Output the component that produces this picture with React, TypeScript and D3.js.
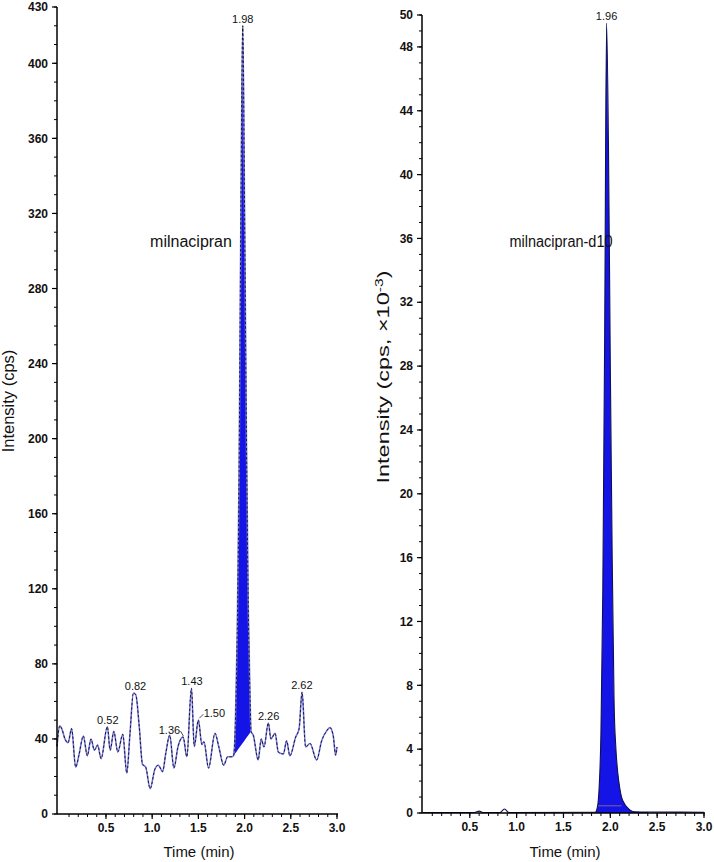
import React from "react";
import * as d3 from "d3";

// left trace: milnacipran (cps)
const leftTimes = [-0.03, 0.0, 0.025, 0.056, 0.09, 0.128, 0.172, 0.208, 0.255, 0.298, 0.338, 0.374, 0.41, 0.447, 0.515, 0.545, 0.585, 0.628, 0.682, 0.725, 0.76, 0.797, 0.823, 0.86, 0.895, 0.93, 0.978, 1.03, 1.066, 1.113, 1.146, 1.19, 1.235, 1.28, 1.3, 1.335, 1.375, 1.425, 1.455, 1.5, 1.538, 1.56, 1.61, 1.68, 1.72, 1.774, 1.817, 1.864, 1.88, 1.9, 1.92, 1.94, 1.96, 1.98, 2.0, 2.02, 2.04, 2.06, 2.07, 2.094, 2.147, 2.18, 2.21, 2.257, 2.285, 2.33, 2.365, 2.42, 2.455, 2.49, 2.553, 2.59, 2.622, 2.66, 2.708, 2.78, 2.834, 2.888, 2.924, 2.96, 2.985, 3.0];
const leftValues = [36, 47, 45, 40, 38, 45.5, 25, 31.5, 41.6, 31, 40, 34, 36.7, 29.5, 46.5, 34, 44, 33, 42.5, 21.8, 43, 64.5, 63.5, 46.6, 26.5, 25, 13.5, 24, 26, 22.6, 32, 42, 24.5, 36, 39, 41, 30.5, 67, 36, 50, 37, 38.5, 24.5, 43, 36, 26, 30.5, 30.5, 31, 48, 95, 180, 320, 420, 320, 200, 110, 60, 44, 42, 28.8, 40, 35.7, 48.5, 40, 43, 33, 32, 39, 31, 41, 45.5, 65, 35.7, 37.6, 28.8, 39, 44.3, 46, 41.5, 31.3, 35.7];
const leftPeakStart = 1.88;
const leftPeakEnd = 2.07;
const leftLabels = [0.52, 0.82, 1.36, 1.43, 1.50, 1.98, 2.26, 2.62];

// right trace: milnacipran-d10 (cps x10^-3)
const rightTimes = [0.0, 0.55, 0.6, 0.64, 0.82, 0.87, 0.92, 1.84, 1.86, 1.88, 1.9, 1.92, 1.94, 1.96, 1.98, 2.0, 2.02, 2.04, 2.06, 2.08, 2.1, 2.12, 2.15, 2.18, 2.22, 2.26, 2.4, 3.0];
const rightValues = [0.03, 0.03, 0.12, 0.03, 0.03, 0.25, 0.03, 0.05, 0.3, 1.5, 5, 14, 30, 49.5, 42, 28, 16, 7, 4, 2.5, 1.6, 1.0, 0.6, 0.35, 0.15, 0.08, 0.06, 0.05];
const rightPeakStart = 1.84;
const rightPeakEnd = 2.4;
const rightBaseline = [1.87, 2.12];
const rightBaselineValue = 0.45;
const rightLabels = [1.96];

const leftYLabels = [0, 40, 80, 120, 160, 200, 240, 280, 320, 360, 400, 430];
const rightYLabels = [0, 4, 8, 12, 16, 20, 24, 28, 32, 36, 40, 44, 48, 50];
const xLabels = [0.5, 1.0, 1.5, 2.0, 2.5, 3.0];

const FONT = "'Liberation Sans', Arial, Helvetica, sans-serif";
const FILL = "#1414e6";

type PanelProps = {
  times: number[];
  values: number[];
  xRange: [number, number];
  xDomain: [number, number];
  yRange: [number, number];
  yMax: number;
  yLabels: number[];
  yMinorStep: number;
  peakStart: number;
  peakEnd: number;
  fillToZero: boolean;
  labels: number[];
  labelOffsets: Record<string, number>;
  leaders: string[];
  name: string;
  nameX: number;
  nameLength?: number;
  yTitle: React.ReactNode;
  yTitleX: number;
  yTitleY: number;
  yTitleLength?: number;
  noiseStyle: boolean;
  children?: (x: d3.ScaleLinear<number, number>, y: d3.ScaleLinear<number, number>) => React.ReactNode;
};

const Panel = (p: PanelProps) => {
  const x = d3.scaleLinear().domain(p.xDomain).range(p.xRange);
  const y = d3.scaleLinear().domain([0, p.yMax]).range(p.yRange);
  const pts = p.times.map((t, i) => [t, p.values[i]] as [number, number]);

  const line = d3.line<[number, number]>()
    .x(d => x(d[0]))
    .y(d => y(d[1]))
    .curve(d3.curveMonotoneX);

  // integration baseline under the peak
  const v0 = pts.find(d => d[0] === p.peakStart)![1];
  const v1 = pts.find(d => d[0] === p.peakEnd)![1];
  const base = (t: number) =>
    p.fillToZero ? 0 : v0 + ((t - p.peakStart) / (p.peakEnd - p.peakStart)) * (v1 - v0);
  const peakPts = pts.filter(d => d[0] >= p.peakStart && d[0] <= p.peakEnd);
  const area = d3.area<[number, number]>()
    .x(d => x(d[0]))
    .y0(d => y(base(d[0])))
    .y1(d => y(d[1]))
    .curve(d3.curveMonotoneX);

  const x0 = p.xRange[0];
  const yBot = p.yRange[0];
  const minorY = d3.range(0, p.yMax + 0.001, p.yMinorStep);
  const minorX = d3.range(1, 31).map(i => i / 10);

  const peakVal = (t: number) =>
    d3.max(pts.filter(d => Math.abs(d[0] - t) <= 0.03), d => d[1]) as number;

  return (
    <g>
      <path d={area(peakPts) || ""} fill={FILL} stroke="none" />
      {p.noiseStyle ? (
        <>
          <path d={line(pts) || ""} fill="none" stroke="#7a7ae8" strokeWidth={1.6} />
          <path d={line(pts) || ""} fill="none" stroke="#111" strokeWidth={0.9} strokeDasharray="2.5,2" />
        </>
      ) : (
        <path d={line(pts) || ""} fill="none" stroke="#101050" strokeWidth={1.1} />
      )}
      {p.children && p.children(x, y)}

      {/* axes */}
      <line x1={x0} x2={x0} y1={p.yRange[1]} y2={yBot} stroke="#000" strokeWidth={1.5} />
      <line x1={x0} x2={p.xRange[1] + 1} y1={yBot} y2={yBot} stroke="#000" strokeWidth={1.5} />
      {minorY.map(v => (
        <line key={"my" + v} x1={x0 - 3} x2={x0} y1={y(v)} y2={y(v)} stroke="#000" strokeWidth={1} />
      ))}
      {p.yLabels.map(v => (
        <g key={"ly" + v}>
          <line x1={x0 - 5} x2={x0} y1={y(v)} y2={y(v)} stroke="#000" strokeWidth={1.2} />
          <text x={x0 - 9} y={y(v)} dy="0.35em" textAnchor="end" fontSize={12} fontWeight="bold" fontFamily={FONT} fill="#111">
            {v}
          </text>
        </g>
      ))}
      {minorX.map(v => (
        <line key={"mx" + v} x1={x(v)} x2={x(v)} y1={yBot} y2={yBot + 3} stroke="#000" strokeWidth={1} />
      ))}
      {xLabels.map(v => (
        <g key={"lx" + v}>
          <line x1={x(v)} x2={x(v)} y1={yBot} y2={yBot + 5} stroke="#000" strokeWidth={1.2} />
          <text x={x(v)} y={yBot + 18} textAnchor="middle" fontSize={12} fontWeight="bold" fontFamily={FONT} fill="#111">
            {v.toFixed(1)}
          </text>
        </g>
      ))}

      {/* peak labels */}
      {p.labels.map(t => {
        const v = peakVal(t);
        const dx = p.labelOffsets[t.toFixed(2)] || 0;
        return (
          <text key={"pl" + t} x={x(t) + dx} y={y(v) - 3} textAnchor="middle" fontSize={11} fontFamily={FONT} fill="#111">
            {t.toFixed(2)}
          </text>
        );
      })}
      {p.leaders.map(k => {
        const t = +k;
        const v = peakVal(t);
        const dx = p.labelOffsets[k];
        const lx = x(t) + dx + (dx < 0 ? 11 : -11);
        return (
          <line key={"ld" + k} x1={lx} y1={y(v) - 6} x2={x(t) + (dx < 0 ? -2 : 1)} y2={y(v) - (dx < 0 ? 1 : 2)} stroke="#222" strokeWidth={0.8} />
        );
      })}

      <text
        x={p.nameX}
        y={247}
        textAnchor="middle"
        fontSize={16}
        fontFamily={FONT}
        fill="#111"
        textLength={p.nameLength}
        lengthAdjust={p.nameLength ? "spacingAndGlyphs" : undefined}
      >
        {p.name}
      </text>
      <text x={(p.xRange[0] + p.xRange[1]) / 2 + 2} y={857} textAnchor="middle" fontSize={15} fontFamily={FONT} fill="#111">
        Time (min)
      </text>
      <text
        transform={`translate(${p.yTitleX},${p.yTitleY}) rotate(-90)`}
        textAnchor="middle"
        fontSize={16.5}
        fontFamily={FONT}
        fill="#111"
        textLength={p.yTitleLength}
        lengthAdjust={p.yTitleLength ? "spacingAndGlyphs" : undefined}
      >
        {p.yTitle}
      </text>
    </g>
  );
};

export default function App() {
  return (
    <svg width={714} height={862} style={{ position: "absolute", left: 0, top: 0, background: "#fff" }}>
      <Panel
        times={leftTimes}
        values={leftValues}
        xDomain={[-0.03, 3.0]}
        xRange={[57, 337]}
        yRange={[814, 7]}
        yMax={430}
        yLabels={leftYLabels}
        yMinorStep={10}
        peakStart={leftPeakStart}
        peakEnd={leftPeakEnd}
        fillToZero={false}
        labels={leftLabels}
        labelOffsets={{ "1.36": -16, "1.50": 16 }}
        leaders={["1.36", "1.50"]}
        name="milnacipran"
        nameX={191}
        yTitle="Intensity (cps)"
        yTitleX={14}
        yTitleY={401}
        noiseStyle={true}
      />
      <Panel
        times={rightTimes}
        values={rightValues}
        xDomain={[-0.01, 3.0]}
        xRange={[422, 704]}
        yRange={[813, 15]}
        yMax={50}
        yLabels={rightYLabels}
        yMinorStep={1}
        peakStart={rightPeakStart}
        peakEnd={rightPeakEnd}
        fillToZero={true}
        labels={rightLabels}
        labelOffsets={{}}
        leaders={[]}
        name="milnacipran-d10"
        nameX={561}
        nameLength={103}
        yTitle={<>Intensity (cps, ×10<tspan dy="-6" fontSize={11}>-3</tspan><tspan dy="6">)</tspan></>}
        yTitleX={389}
        yTitleY={377}
        yTitleLength={213}
        noiseStyle={false}
      >
        {(x, y) => (
          <line
            x1={x(rightBaseline[0])}
            x2={x(rightBaseline[1])}
            y1={y(rightBaselineValue)}
            y2={y(rightBaselineValue)}
            stroke="#9a7a7a"
            strokeWidth={0.8}
          />
        )}
      </Panel>
    </svg>
  );
}
